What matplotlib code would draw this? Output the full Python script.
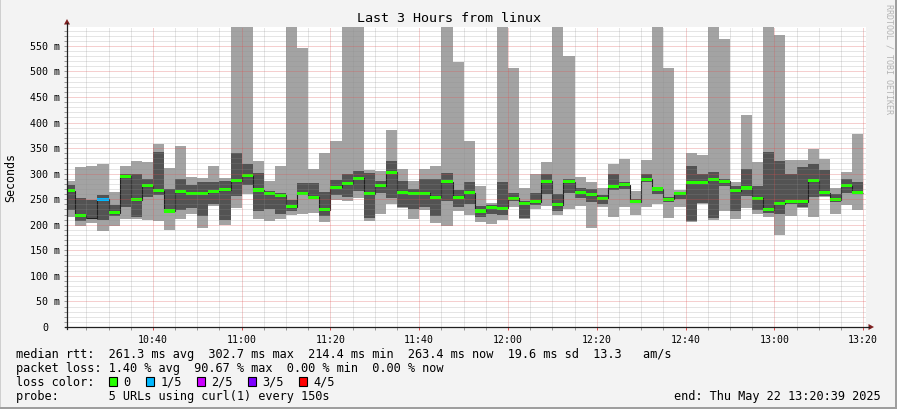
import matplotlib
matplotlib.use("Agg")
import matplotlib.pyplot as plt
import matplotlib.dates as mdates
import numpy as np
import pandas as pd
from matplotlib.lines import Line2D
from matplotlib.patches import Polygon, Rectangle

# ---------------- data ----------------
bin_start = "2025-05-22 10:20:00"
bin_seconds = 150
n_bins = 72
view_start = "2025-05-22 10:20:39"
view_end = "2025-05-22 13:20:39"

# sorted pings per 150 s bin (ms): ping1 (min) .. ping5 (max)
ping1 = [215, 198, 204, 188, 198, 211, 211, 209, 208, 190, 212, 222,
         193, 237, 200, 232, 260, 212, 208, 212, 219, 222, 223, 205,
         248, 247, 253, 207, 221, 241, 232, 212, 229, 204, 198, 226,
         219, 206, 202, 210, 235, 212, 231, 237, 219, 231, 237, 193,
         235, 216, 235, 220, 235, 240, 213, 234, 205, 240, 210, 226,
         211, 233, 221, 216, 180, 217, 233, 215, 254, 221, 239, 229]
ping2 = [229, 208, 213, 210, 218, 235, 216, 255, 258, 224, 228, 232,
         217, 241, 210, 257, 278, 226, 230, 222, 227, 258, 250, 217,
         258, 255, 266, 213, 263, 253, 234, 231, 234, 218, 247, 234,
         240, 216, 221, 219, 247, 214, 238, 261, 227, 262, 253, 244,
         240, 268, 270, 242, 284, 261, 244, 250, 208, 243, 214, 276,
         227, 256, 229, 224, 221, 241, 234, 255, 257, 245, 263, 260]
median = [267, 219, 214, 250, 224, 295, 249, 276, 267, 227, 265, 262,
          262, 266, 269, 286, 296, 268, 261, 258, 235, 262, 254, 229,
          273, 280, 291, 261, 276, 303, 263, 262, 262, 254, 284, 254,
          263, 227, 234, 232, 252, 242, 245, 285, 239, 284, 263, 259,
          252, 274, 278, 245, 289, 270, 250, 261, 282, 283, 289, 285,
          267, 272, 252, 229, 241, 246, 245, 286, 263, 249, 276, 263]
ping4 = [278, 252, 249, 258, 239, 299, 299, 289, 343, 270, 289, 277,
         283, 283, 285, 340, 319, 301, 266, 262, 249, 282, 282, 265,
         287, 299, 306, 302, 286, 325, 286, 270, 289, 289, 302, 268,
         284, 236, 238, 284, 262, 246, 262, 299, 260, 289, 271, 270,
         258, 299, 283, 251, 300, 273, 254, 263, 315, 299, 303, 289,
         276, 309, 276, 343, 325, 300, 313, 319, 307, 261, 289, 283]
ping5 = [286, 314, 315, 319, 264, 315, 324, 322, 358, 311, 355, 293,
         292, 315, 292, 600, 600, 325, 286, 315, 600, 546, 309, 340,
         364, 600, 600, 307, 306, 385, 309, 286, 309, 316, 600, 519,
         364, 276, 243, 600, 506, 272, 299, 322, 600, 531, 294, 284,
         272, 319, 329, 267, 327, 600, 506, 268, 340, 337, 600, 564,
         284, 415, 323, 600, 571, 327, 327, 348, 329, 272, 303, 377]
# loss level per bin: 0 -> 0/5, 1 -> 1/5 ... ; -1 = no loss marker visible
loss_level = [0, 0, -1, 1, 0, 0, 0, 0, 0, 0, 0, 0,
              0, 0, 0, 0, 0, 0, 0, 0, 0, 0, 0, 0,
              0, 0, 0, 0, 0, 0, 0, 0, 0, 0, 0, 0,
              0, 0, 0, 0, 0, 0, 0, 0, 0, 0, 0, 0,
              0, 0, 0, 0, 0, 0, 0, 0, 0, 0, 0, 0,
              0, 0, 0, 0, 0, 0, 0, 0, 0, 0, 0, 0]
loss_labels = ["0", "1/5", "2/5", "3/5", "4/5"]
loss_colors = ["#26ff00", "#00b8ff", "#cc00ff", "#7e00ff", "#ff0000"]

y_ticks = [0, 50, 100, 150, 200, 250, 300, 350, 400, 450, 500, 550]
y_tick_labels = ["0", "50 m", "100 m", "150 m", "200 m", "250 m", "300 m",
                 "350 m", "400 m", "450 m", "500 m", "550 m"]
y_top = 587

title = "Last 3 Hours from linux"
legend_rtt = "median rtt:  261.3 ms avg  302.7 ms max  214.4 ms min  263.4 ms now  19.6 ms sd  13.3   am/s"
legend_loss = "packet loss: 1.40 % avg  90.67 % max  0.00 % min  0.00 % now"
legend_color = "loss color:"
legend_probe = "probe:       5 URLs using curl(1) every 150s"
legend_end = "end: Thu May 22 13:20:39 2025"
watermark = "RRDTOOL / TOBI OETIKER"

# ---------------- drawing ----------------
W, H, DPI = 897, 410, 100
MONO = "DejaVu Sans Mono"


def fx(px):
    return px / W


def fy(py):
    return 1 - py / H


fig = plt.figure(figsize=(W / DPI, H / DPI), dpi=DPI, facecolor="#f3f3f3")

# frame shading
fig.add_artist(Rectangle((fx(0), fy(H)), fx(1), 1, transform=fig.transFigure,
                         facecolor="#cfcfcf", edgecolor="none"))
fig.add_artist(Rectangle((fx(0), fy(1)), 1, 1 / H, transform=fig.transFigure,
                         facecolor="#cfcfcf", edgecolor="none"))
fig.add_artist(Rectangle((fx(W - 2), 0), 2 / W, 1, transform=fig.transFigure,
                         facecolor="#9e9e9e", edgecolor="none"))
fig.add_artist(Rectangle((0, 0), 1, 2 / H, transform=fig.transFigure,
                         facecolor="#9e9e9e", edgecolor="none"))

L, R, T, B = 67, 866, 28, 328
ax = fig.add_axes([fx(L), fy(B), (R - L) / W, (B - T) / H])
ax.set_facecolor("white")

edges_dt = pd.date_range(bin_start, periods=n_bins + 1, freq=f"{bin_seconds}s")
edges = mdates.date2num(edges_dt.to_pydatetime())

p1 = np.array(ping1, float)
p2 = np.array(ping2, float)
p3 = np.array(median, float)
p4 = np.array(ping4, float)
p5 = np.array(ping5, float)

ax.stairs(p5, edges, baseline=p1, fill=True, color="#a3a3a3", lw=0, zorder=1)
ax.stairs(p4, edges, baseline=p2, fill=True, color="#535353", lw=0, zorder=1.1)
ax.stairs(p3, edges, baseline=None, color="#202020", lw=0.8, zorder=1.5)

mark_h = 6.0
for i, lv in enumerate(loss_level):
    if lv < 0:
        continue
    ax.bar(edges[i], mark_h, bottom=p3[i] - mark_h / 2, width=edges[i + 1] - edges[i],
           align="edge", color=loss_colors[lv], lw=0, zorder=1.6)

x0 = mdates.date2num(pd.Timestamp(view_start).to_pydatetime())
x1 = mdates.date2num(pd.Timestamp(view_end).to_pydatetime())
ax.set_xlim(x0, x1)
ax.set_ylim(0, y_top)

# grid (drawn over the data like rrdtool)
ax.xaxis.set_major_locator(mdates.MinuteLocator(byminute=[0, 20, 40]))
ax.xaxis.set_minor_locator(mdates.MinuteLocator(byminute=range(0, 60, 5)))
ax.xaxis.set_major_formatter(mdates.DateFormatter("%H:%M"))
ax.set_yticks(y_ticks)
ax.set_yticks(np.arange(0, y_top, 10), minor=True)
ax.set_yticklabels([])
ax.set_axisbelow(False)
ax.grid(which="minor", color="#8f8f8f", alpha=0.45, lw=0.72, ls=(0, (1, 1)))
ax.grid(which="major", color="#de5050", alpha=0.55, lw=0.72, ls=(0, (1, 1)))

ax.tick_params(axis="x", which="major", length=2, width=0.72, color="#de5050",
               pad=3, labelsize=7.1)
ax.tick_params(axis="x", which="minor", length=2, width=0.72, color="#9a9a9a")
ax.tick_params(axis="y", which="both", length=2, width=0.72, color="#9a9a9a")
for lab in ax.get_xticklabels():
    lab.set_fontfamily(MONO)

for s in ax.spines.values():
    s.set_visible(False)

# y tick labels (right aligned, '0' carries blank unit space)
ytr = ax.get_yaxis_transform()
for v, lab in zip(y_ticks, y_tick_labels):
    off = 7 if lab != "0" else 19
    ax.text(-off / (R - L), v, lab, transform=ytr, ha="right", va="center",
            fontsize=7.2, family=MONO, color="black")

# axes lines with arrows
axis_col = "#1f1f1f"
fig.add_artist(Line2D([fx(L), fx(L)], [fy(B + 2), fy(24)], transform=fig.transFigure,
                      color=axis_col, lw=0.9))
fig.add_artist(Line2D([fx(L - 2), fx(869)], [fy(B), fy(B)], transform=fig.transFigure,
                      color=axis_col, lw=0.9))
arrow_col = "#7f1f1f"
fig.add_artist(Polygon([[fx(L - 3), fy(25.5)], [fx(L + 3), fy(25.5)], [fx(L), fy(20)]],
                       closed=True, transform=fig.transFigure, color=arrow_col, lw=0))
fig.add_artist(Polygon([[fx(868.5), fy(B - 3)], [fx(868.5), fy(B + 3)], [fx(874), fy(B)]],
                       closed=True, transform=fig.transFigure, color=arrow_col, lw=0))

# texts
fig.text(fx(448.5), fy(19), title, ha="center", va="center", fontsize=9.6, family=MONO)
fig.text(fx(11), fy(178), "Seconds", rotation=90, ha="center", va="center",
         fontsize=8.4, family=MONO)
fig.text(fx(889), fy(4), watermark, rotation=270, ha="center", va="top",
         fontsize=6, family=MONO, color="#b4b4b4")

LX = 16
fs = 8.55
cw = fs * DPI / 72 * 0.602
fig.text(fx(LX), fy(354.3), legend_rtt, ha="left", va="center", fontsize=fs, family=MONO)
fig.text(fx(LX), fy(368.3), legend_loss, ha="left", va="center", fontsize=fs, family=MONO)
fig.text(fx(LX), fy(382.3), legend_color, ha="left", va="center", fontsize=fs, family=MONO)
fig.text(fx(LX), fy(396.2), legend_probe, ha="left", va="center", fontsize=fs, family=MONO)
fig.text(fx(881), fy(396.2), legend_end, ha="right", va="center", fontsize=fs, family=MONO)

bx = LX + 13 * cw
box = 8.5
for lab, col in zip(loss_labels, loss_colors):
    fig.add_artist(Rectangle((fx(bx), fy(382.5 + box / 2)), box / W, box / H,
                             transform=fig.transFigure, facecolor=col,
                             edgecolor="black", lw=0.8))
    tx = bx + 14.8
    fig.text(fx(tx), fy(382.3), lab, ha="left", va="center", fontsize=fs, family=MONO)
    bx = tx + len(lab) * cw + 14.8

fig.savefig("out.png", dpi=DPI, facecolor=fig.get_facecolor())
